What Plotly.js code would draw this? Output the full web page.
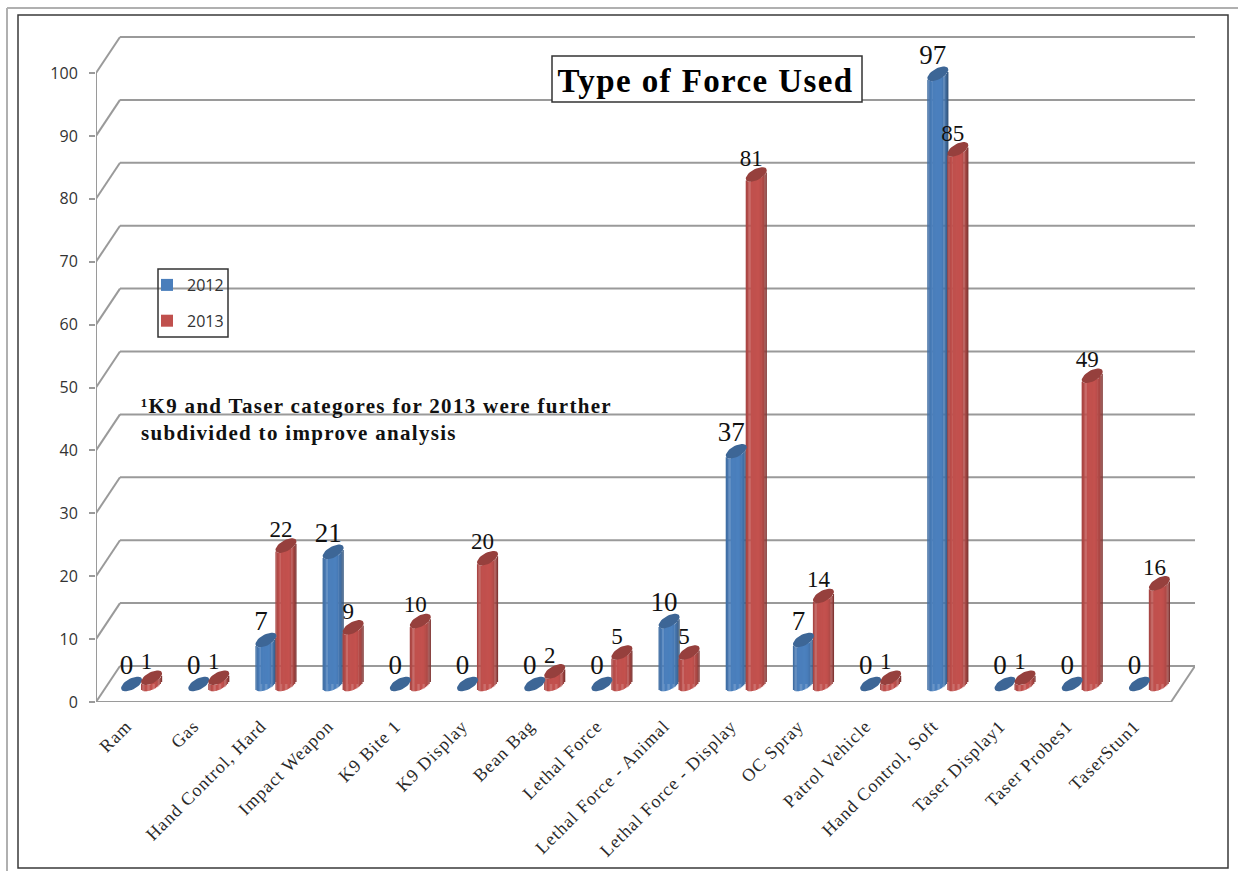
<!DOCTYPE html>
<html>
<head>
<meta charset="utf-8">
<script src="https://cdn.plot.ly/plotly-3.0.1.min.js"></script>
<style>
html,body{margin:0;padding:0;background:#fff}
.gtitle{letter-spacing:1.4px}
.annotation-text{letter-spacing:1.3px}
.xtick text{letter-spacing:1px}
</style>
</head>
<body>
<div id="chart" style="width:1238px;height:871px"></div>
<script>
// Force categories and yearly counts
const categories = ["Ram", "Gas", "Hand Control, Hard", "Impact Weapon", "K9 Bite 1", "K9 Display",
  "Bean Bag", "Lethal Force", "Lethal Force - Animal", "Lethal Force - Display", "OC Spray",
  "Patrol Vehicle", "Hand Control, Soft", "Taser Display1", "Taser Probes1", "TaserStun1"];
const counts2012 = [0, 0, 7, 21, 0, 0, 0, 0, 10, 37, 7, 0, 97, 0, 0, 0];
const counts2013 = [1, 1, 22, 9, 10, 20, 2, 5, 5, 81, 14, 1, 85, 1, 49, 16];
const valueTicks = [0, 10, 20, 30, 40, 50, 60, 70, 80, 90, 100];

// Plot area in pixels
const W = 1238, H = 871, L = 96, R = 1195, T = 32, B = 702;
const pxPerCat = (1171 - 96) / 16, pxPerUnit = 6.29;
const depthX = (R - 1171) / pxPerCat, depthY = 36 / pxPerUnit;   // receding wall offset
const xMax = categories.length + depthX, yMax = (B - T) / pxPerUnit;
const px2x = p => (p - L) / (R - L), py2y = p => (B - p) / (B - T);
const wall = "#9a9a9a";

// Cylinder geometry, in axis units
const floorLift = 18 / pxPerUnit;
const radX = 10.5 / pxPerCat, capB = 6 / pxPerUnit, capShear = 4.2 / pxPerUnit;
const seriesShift = 10 / pxPerCat;
const stripPx = 1.4, stripCount = 17;

function centre(i, s) { return i + 0.5 + depthX / 2 + (s === 0 ? -seriesShift : seriesShift); }

function shade(rgb, f) {
  // light falls from the left; the right flank drops into shadow
  const stops = [[-1, .86], [-.55, 1], [.3, 1.02], [.72, .88], [1, .62]];
  let k = 1;
  for (let n = 0; n < stops.length - 1; n++) {
    const a = stops[n], b = stops[n + 1];
    if (f >= a[0] && f <= b[0]) k = a[1] + (b[1] - a[1]) * (f - a[0]) / (b[0] - a[0]);
  }
  return "rgb(" + rgb.map(c => Math.round(Math.min(255, c * k))).join(",") + ")";
}

function cylinderTraces(name, values, s, body, cap, labelSize, labelLift) {
  const xs = values.map((_, i) => centre(i, s));
  const flat = { type: "bar", hoverinfo: "skip", showlegend: false, marker: { line: { width: 0 } } };
  const sx = [], sy = [], sb = [], sc = [];
  values.forEach((v, i) => {
    for (let k = 0; k < stripCount; k++) {
      const f = -1 + 2 * (k + .5) / stripCount;
      sx.push(xs[i] + f * radX);
      sy.push(v);
      sb.push(floorLift + capShear * f - capB * Math.sqrt(1 - f * f));
      sc.push(shade(body, f));
    }
  });
  const capX = [], capY = [];
  values.forEach((v, i) => {
    for (let t = 0; t <= 36; t++) {
      const a = t / 36 * 2 * Math.PI;
      capX.push(xs[i] + radX * Math.cos(a));
      capY.push(floorLift + v + capShear * Math.cos(a) + capB * Math.sin(a));
    }
    capX.push(null); capY.push(null);
  });
  return [
    { type: "bar", name: name, x: xs, y: values, base: values.map(() => floorLift), width: radX,
      marker: { color: "rgb(" + body.join(",") + ")", line: { width: 0 } }, hoverinfo: "skip",
      legendgroup: name },
    Object.assign({}, flat, { x: sx, y: sy, base: sb, width: stripPx / pxPerCat,
      marker: { color: sc, line: { width: 0 } } }),
    { type: "scatter", mode: "lines", x: capX, y: capY, fill: "toself", fillcolor: cap,
      line: { width: 0, color: cap }, hoverinfo: "skip", showlegend: false },
    { type: "scatter", mode: "text", x: xs.map(v => v - 5 / pxPerCat),
      y: values.map(v => floorLift + v + labelLift / pxPerUnit), text: values.map(String),
      textposition: "middle center", cliponaxis: false, hoverinfo: "skip", showlegend: false,
      textfont: { family: "Liberation Serif", size: labelSize, color: "#111" } }
  ];
}

// Back wall and floor edges sit behind the cylinders
const wallShapes = [];
const seg = (x0, y0, x1, y1) => ({ type: "line", layer: "below", xref: "x", yref: "y", x0, y0, x1, y1,
  line: { color: wall, width: 2 } });
valueTicks.forEach(t => {
  wallShapes.push(seg(0, t, depthX, t + depthY));
  wallShapes.push(seg(depthX, t + depthY, xMax, t + depthY));
});
wallShapes.push(seg(categories.length, 0, xMax, depthY));

// Front axis lines and the category tick marks
const frameX = [0, 0, null, 0, categories.length], frameY = [0, 100, null, 0, 0];
const tickDrop = 8 / pxPerUnit;
categories.concat("").forEach((_, i) => { frameX.push(null, i, i); frameY.push(null, 0, -tickDrop); });
const frameTrace = { type: "scatter", mode: "lines", x: frameX, y: frameY, cliponaxis: false,
  line: { color: wall, width: 2 }, hoverinfo: "skip", showlegend: false };

const rect = (x0, y0, x1, y1, color, width, fill, layer) => ({ type: "rect", xref: "paper", yref: "paper",
  layer: layer, x0: px2x(x0), x1: px2x(x1), y0: py2y(y0), y1: py2y(y1),
  line: { color: color, width: width }, fillcolor: fill });
const pageLine = (x0, y0, x1, y1) => ({ type: "line", xref: "paper", yref: "paper", layer: "below",
  x0: px2x(x0), x1: px2x(x1), y0: py2y(y0), y1: py2y(y1), line: { color: "#b0b0b0", width: 2 } });

const shapes = [
  pageLine(7, 8, W, 8), pageLine(7, 8, 7, H),
  rect(18, 15, 1228, 868, "#3a3a3a", 1.5, "rgba(0,0,0,0)", "below")
].concat(wallShapes, [
  rect(552, 56, 862, 102, "#333", 1.5, "#fff", "above"),
  rect(158, 269, 228, 337, "#333", 1.5, "rgba(0,0,0,0)", "above")
]);

const data = [].concat(
  cylinderTraces("2012", counts2012, 0, [74, 126, 187], "#3d6696", 27, 17),
  cylinderTraces("2013", counts2013, 1, [192, 80, 77], "#96403d", 23, 14.5),
  [frameTrace]
);

const layout = {
  width: W, height: H, autosize: false,
  margin: { l: L, r: W - R, t: T, b: H - B, pad: 0 },
  paper_bgcolor: "#fff", plot_bgcolor: "rgba(0,0,0,0)",
  barmode: "overlay", hovermode: false,
  title: { text: "Type of Force Used", x: 705.5 / W, xanchor: "center",
    y: 1 - 80 / H, yanchor: "middle", font: { family: "Liberation Serif", size: 33, color: "#000", weight: 700 } },
  xaxis: { range: [0, xMax], tickmode: "array", tickvals: categories.map((_, i) => i + .5), ticktext: categories,
    tickangle: -45, ticks: "", ticklabelstandoff: 9, ticklabelshift: -3, showgrid: false, zeroline: false,
    showline: false, fixedrange: true,
    tickfont: { family: "Liberation Serif", size: 18, color: "#2a2a2a" } },
  yaxis: { range: [0, yMax], tickmode: "array", tickvals: valueTicks, ticks: "outside", ticklen: 6, tickwidth: 2,
    tickcolor: wall, ticklabelstandoff: 8, showgrid: false, zeroline: false, showline: false, fixedrange: true,
    tickfont: { family: "Open Sans", size: 16, color: "#333" } },
  legend: { x: px2x(147), xanchor: "left", y: py2y(268), yanchor: "top", bgcolor: "rgba(0,0,0,0)", borderwidth: 0,
    traceorder: "grouped", tracegroupgap: 12, font: { family: "Open Sans", size: 16, color: "#333" } },
  shapes: shapes,
  annotations: [{
    xref: "paper", yref: "paper", x: px2x(139), y: py2y(419), xanchor: "left", yanchor: "middle", align: "left",
    showarrow: false, text: "\u00B9K9 and Taser categores for 2013 were further<br>subdivided to improve analysis",
    font: { family: "Liberation Serif", size: 21, color: "#111", weight: 700 }
  }]
};

Plotly.newPlot("chart", data, layout, { staticPlot: true, displayModeBar: false });
</script>
</body>
</html>
